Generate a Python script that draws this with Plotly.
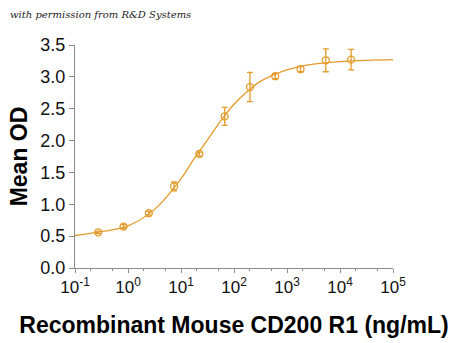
import plotly.graph_objects as go

conc = [0.274, 0.823, 2.47, 7.41, 22.2, 66.7, 200, 600, 1800, 5400, 16200]
od = [0.56, 0.65, 0.86, 1.28, 1.79, 2.38, 2.84, 3.01, 3.12, 3.26, 3.27]
err = [0.02, 0.03, 0.03, 0.07, 0.03, 0.14, 0.23, 0.04, 0.04, 0.18, 0.16]

curve_x = [0.1, 0.316, 1, 3.16, 10, 17.8, 31.6, 56.2, 100, 178, 316, 1000, 3162, 10000, 31623, 100000]
curve_y = [0.51, 0.57, 0.66, 0.92, 1.40, 1.72, 2.01, 2.31, 2.57, 2.77, 2.93, 3.11, 3.20, 3.24, 3.26, 3.27]

tick_vals = [0.1, 1, 10, 100, 1000, 10000, 100000]
tick_text = ["10<sup>-1</sup>", "10<sup>0</sup>", "10<sup>1</sup>", "10<sup>2</sup>",
             "10<sup>3</sup>", "10<sup>4</sup>", "10<sup>5</sup>"]

color = "#E39B2B"

fig = go.Figure()
fig.add_trace(go.Scatter(x=curve_x, y=curve_y, mode="lines", line=dict(color=color, width=1.3, shape="spline"),
                         hoverinfo="skip", showlegend=False))
fig.add_trace(go.Scatter(x=conc, y=od, mode="markers",
                         marker=dict(symbol="circle-open", size=7, color=color, line=dict(width=1.3)),
                         error_y=dict(type="data", array=err, color=color, thickness=1.3, width=3),
                         showlegend=False))

fig.update_layout(
    width=450, height=343,
    margin=dict(l=75, r=57, t=45, b=75),
    paper_bgcolor="white", plot_bgcolor="white",
    font=dict(family="Liberation Sans, Arial", color="black"),
    xaxis=dict(type="log", range=[-1, 5], tickvals=tick_vals, ticktext=tick_text, automargin=False,
               showgrid=False, zeroline=False, showline=True, linecolor="#8c8c8c", linewidth=1,
               ticks="outside", ticklen=4, tickcolor="#8c8c8c",
               minor=dict(ticks="outside", ticklen=2, tickcolor="#8c8c8c", showgrid=False),
               tickfont=dict(size=17, color="#111"),
               title=dict(text="<b>Recombinant Mouse CD200 R1 (ng/mL)</b>", font=dict(size=23), standoff=20)),
    yaxis=dict(range=[0, 3.5], tickvals=[0, 0.5, 1, 1.5, 2, 2.5, 3, 3.5], tickformat=".1f", automargin=False,
               showgrid=False, zeroline=False, showline=True, linecolor="#8c8c8c", linewidth=1,
               ticks="outside", ticklen=5, tickcolor="#8c8c8c",
               tickfont=dict(size=18, color="#111"),
               title=dict(text="<b>Mean OD</b>", font=dict(size=23), standoff=6)),
    annotations=[dict(text="with permission from R&D Systems", xref="paper", yref="paper",
                      x=-0.21, y=1.135, xanchor="left", yanchor="middle", showarrow=False,
                      font=dict(family="DejaVu Serif", size=10, color="#222", style="italic"))],
)

fig.write_html("out.html")
